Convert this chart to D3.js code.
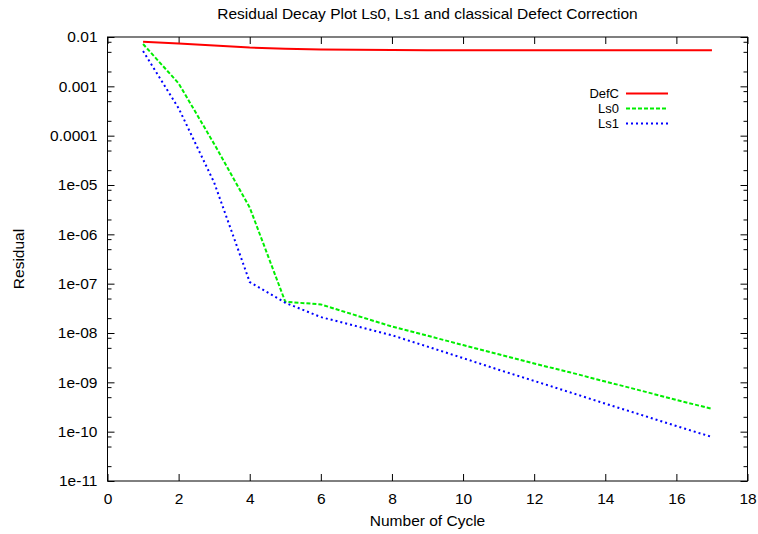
<!DOCTYPE html>
<html>
<head>
<meta charset="utf-8">
<style>
  body { margin: 0; background: #fff; }
  svg text { font-family: "Liberation Sans", Arial, sans-serif; font-size: 15.5px; fill: #000; }
  svg text.legend-label { font-size: 13px; }
</style>
</head>
<body>
<svg width="758" height="534"></svg>
<script src="https://d3js.org/d3.v7.min.js"></script>
<script>
var cycles = [1, 2, 3, 4, 5, 6, 7, 8, 9, 10, 11, 12, 13, 14, 15, 16, 17];
var defC = [8.0e-3, 7.4e-3, 6.7e-3, 6.1e-3, 5.8e-3, 5.6e-3, 5.5e-3, 5.45e-3, 5.4e-3, 5.4e-3, 5.4e-3, 5.4e-3, 5.4e-3, 5.4e-3, 5.4e-3, 5.4e-3, 5.4e-3];
var ls0 = [7.2e-3, 1.15e-3, 6.8e-5, 3.5e-6, 4.3e-8, 3.8e-8, 2.26e-8, 1.35e-8, 8.8e-9, 5.7e-9, 3.7e-9, 2.4e-9, 1.6e-9, 1.04e-9, 6.8e-10, 4.4e-10, 2.9e-10];
var ls1 = [5.2e-3, 3.6e-4, 1.12e-5, 1.08e-7, 4.1e-8, 2.1e-8, 1.38e-8, 9.0e-9, 5.3e-9, 3.1e-9, 1.8e-9, 1.07e-9, 6.3e-10, 3.7e-10, 2.2e-10, 1.3e-10, 7.8e-11];
var xTicks = [0, 2, 4, 6, 8, 10, 12, 14, 16, 18];
var yTicks = [1e-2, 1e-3, 1e-4, 1e-5, 1e-6, 1e-7, 1e-8, 1e-9, 1e-10, 1e-11];
var yTickLabels = ["0.01", "0.001", "0.0001", "1e-05", "1e-06", "1e-07", "1e-08", "1e-09", "1e-10", "1e-11"];

var series = [
  { name: "DefC", values: defC, color: "#ff0000", dash: null },
  { name: "Ls0", values: ls0, color: "#00ee00", dash: "4,2" },
  { name: "Ls1", values: ls1, color: "#0000ff", dash: "2,3" }
];

var svg = d3.select("svg");
var margin = { top: 37, right: 10.5, bottom: 53, left: 107.5 };
var width = 758 - margin.left - margin.right,
    height = 534 - margin.top - margin.bottom;
var g = svg.append("g").attr("transform", "translate(" + margin.left + "," + margin.top + ")");

var x = d3.scaleLinear().domain([0, 18]).range([0, width]);
var y = d3.scaleLog().domain([1e-11, 1e-2]).range([height, 0]);

// minor ticks at 2, 5, 8 of each decade
var minor = [];
yTicks.slice(1).forEach(function(t) {
  [2, 5, 8].forEach(function(m) { minor.push(t * m); });
});

function styleAxis(sel) {
  sel.select(".domain").remove();
  sel.selectAll("line").attr("stroke", "#000");
}

g.append("g").attr("transform", "translate(0," + height + ")")
  .call(d3.axisBottom(x).tickValues(xTicks).tickSizeInner(-7).tickSizeOuter(0).tickPadding(12).tickFormat(d3.format("d")))
  .call(styleAxis);

g.append("g")
  .call(d3.axisTop(x).tickValues(xTicks).tickSizeInner(-7).tickSizeOuter(0).tickFormat(""))
  .call(styleAxis);

g.append("g")
  .call(d3.axisLeft(y).tickValues(yTicks).tickSizeInner(-7).tickSizeOuter(0).tickPadding(10)
    .tickFormat(function(d, i) { return yTickLabels[i]; }))
  .call(styleAxis);

g.append("g")
  .call(d3.axisLeft(y).tickValues(minor).tickSizeInner(-4).tickSizeOuter(0).tickFormat(""))
  .call(styleAxis);

g.append("g").attr("transform", "translate(" + width + ",0)")
  .call(d3.axisRight(y).tickValues(yTicks).tickSizeInner(-7).tickSizeOuter(0).tickFormat(""))
  .call(styleAxis);

g.append("g").attr("transform", "translate(" + width + ",0)")
  .call(d3.axisRight(y).tickValues(minor).tickSizeInner(-4).tickSizeOuter(0).tickFormat(""))
  .call(styleAxis);

svg.selectAll(".tick text").attr("font-size", null).attr("font-family", null);

g.append("rect")
  .attr("width", width).attr("height", height)
  .attr("fill", "none").attr("stroke", "#000").attr("stroke-width", 1);

var line = d3.line()
  .x(function(d, i) { return x(cycles[i]); })
  .y(function(d) { return y(d); });

g.selectAll(".series")
  .data(series)
  .enter().append("path")
  .attr("class", "series")
  .attr("d", function(d) { return line(d.values); })
  .attr("fill", "none")
  .attr("stroke", function(d) { return d.color; })
  .attr("stroke-width", 2)
  .attr("stroke-dasharray", function(d) { return d.dash; });

// legend
var legend = svg.append("g");
series.forEach(function(s, i) {
  var ly = 93.5 + i * 15;
  legend.append("text")
    .attr("class", "legend-label")
    .attr("x", 619).attr("y", ly).attr("dy", "0.35em")
    .attr("text-anchor", "end").text(s.name);
  legend.append("line")
    .attr("x1", 626).attr("x2", 668).attr("y1", ly).attr("y2", ly)
    .attr("stroke", s.color).attr("stroke-width", 2)
    .attr("stroke-dasharray", s.dash);
});

svg.append("text")
  .attr("x", margin.left + width / 2).attr("y", 19)
  .attr("text-anchor", "middle")
  .text("Residual Decay Plot Ls0, Ls1 and classical Defect Correction");

svg.append("text")
  .attr("x", margin.left + width / 2).attr("y", 526)
  .attr("text-anchor", "middle")
  .text("Number of Cycle");

svg.append("text")
  .attr("transform", "translate(24," + (margin.top + height / 2) + ") rotate(-90)")
  .attr("text-anchor", "middle")
  .text("Residual");
</script>
</body>
</html>
